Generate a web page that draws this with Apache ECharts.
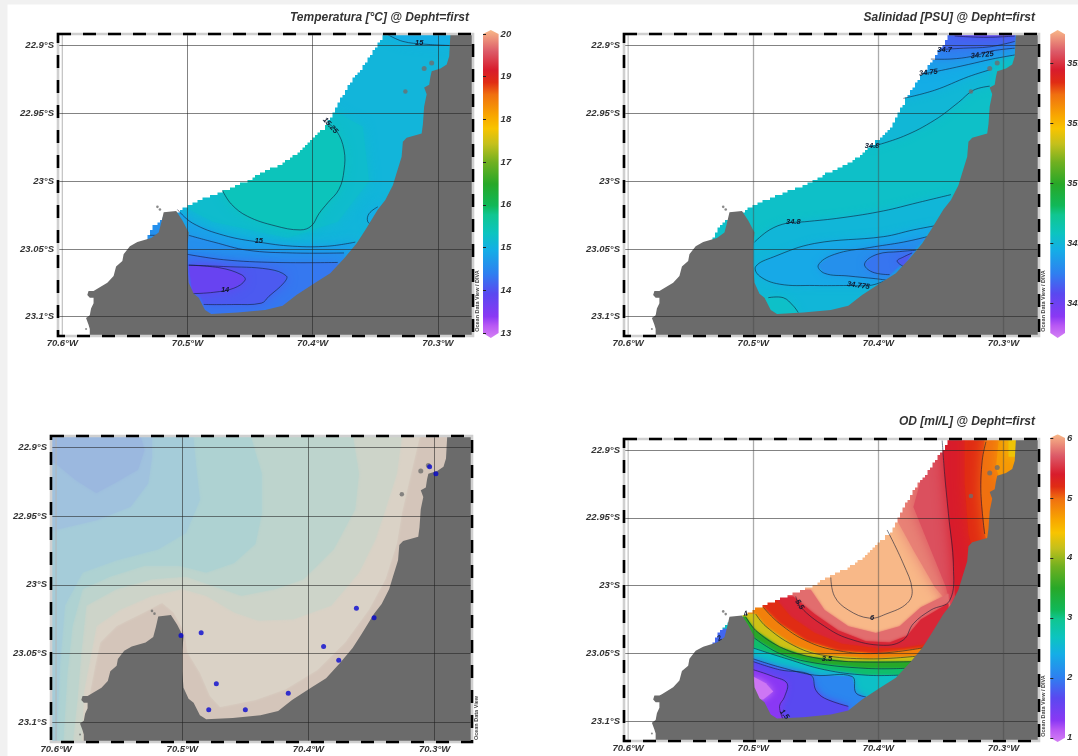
<!DOCTYPE html>
<html>
<head>
<meta charset="utf-8">
<script src="https://cdn.jsdelivr.net/npm/echarts@6/dist/echarts.min.js"></script>
<style>
html,body{margin:0;padding:0;background:#fff;overflow:hidden}
#c{width:1078px;height:756px;filter:blur(0.45px)}
</style>
</head>
<body>
<div id="c"></div>
<script>
/* ---------- data: longitudes in deg W, latitudes in deg S ---------- */
const lonLabels = [70.6, 70.5, 70.4, 70.3];
const lonGrid = [70.5, 70.4, 70.3];
const latTicks = [22.9, 22.95, 23, 23.05, 23.1];
const titles = ['Temperatura [°C] @ Depht=first', 'Salinidad [PSU] @ Depht=first', 'OD [ml/L] @ Depht=first'];
const tempTicks = [13, 14, 15, 16, 17, 18, 19, 20];
const salTicks = [34.5, 34.75, 35, 35.25, 35.5];
const odTicks = [1, 2, 3, 4, 5, 6];

const coast = [[70.29,22.88],[70.290,22.891],[70.291,22.908],[70.293,22.914],[70.298,22.917],[70.305,22.919],[70.306,22.923],[70.307,22.929],[70.311,22.931],[70.309,22.936],[70.311,22.945],[70.312,22.958],[70.313,22.965],[70.325,22.968],[70.328,22.971],[70.329,22.982],[70.333,22.994],[70.336,23.003],[70.342,23.014],[70.348,23.021],[70.358,23.036],[70.365,23.046],[70.375,23.057],[70.386,23.068],[70.398,23.075],[70.413,23.084],[70.424,23.092],[70.438,23.095],[70.460,23.097],[70.481,23.098],[70.486,23.095],[70.491,23.086],[70.495,23.083],[70.499,23.075],[70.500,23.063],[70.500,23.048],[70.499,23.038],[70.504,23.029],[70.509,23.022],[70.519,23.023],[70.521,23.031],[70.523,23.038],[70.529,23.042],[70.540,23.045],[70.546,23.048],[70.551,23.054],[70.552,23.059],[70.557,23.063],[70.559,23.070],[70.564,23.075],[70.573,23.080],[70.575,23.081],[70.579,23.081],[70.580,23.084],[70.578,23.086],[70.575,23.086],[70.575,23.090],[70.577,23.094],[70.578,23.099],[70.581,23.101],[70.579,23.106],[70.578,23.109],[70.578,23.125],[70.26,23.125],[70.26,22.88]];
const offshoreEdge = [[70.340,22.885],[70.347,22.898],[70.354,22.907],[70.361,22.917],[70.369,22.926],[70.377,22.938],[70.384,22.950],[70.390,22.960],[70.399,22.968],[70.408,22.976],[70.416,22.982],[70.427,22.988],[70.441,22.994],[70.452,23.000],[70.468,23.006],[70.485,23.012],[70.498,23.017],[70.509,23.023],[70.520,23.028],[70.527,23.033],[70.531,23.040],[70.533,23.043]];
const offshoreRest = [[70.535,23.05],[70.535,23.125],[70.62,23.125],[70.62,22.88],[70.340,22.88]];
const islands = [[70.305,22.913,5],[70.311,22.917,5],[70.326,22.934,4.5],[70.524,23.019,2.6],[70.522,23.021,2.6],[70.581,23.109,2]];
const stations = [[70.501,23.037],[70.485,23.035],[70.473,23.072],[70.479,23.091],[70.450,23.091],[70.416,23.079],[70.388,23.045],[70.376,23.055],[70.362,23.017],[70.348,23.024],[70.304,22.914],[70.299,22.919]];
const wholeMap = [[70.62,22.88],[70.26,22.88],[70.26,23.125],[70.62,23.125]];
const meridian706 = [[70.6,22.88],[70.6,23.125]];

/* temperature contours */
const tempLine15N = [[70.340,22.892],[70.328,22.897],[70.311,22.899],[70.291,22.900]];
const tempLine1525 = [[70.390,22.956],[70.381,22.963],[70.375,22.977],[70.375,22.992],[70.379,23.006],[70.388,23.016],[70.395,23.024],[70.401,23.033],[70.410,23.036],[70.430,23.033],[70.452,23.026],[70.465,23.017],[70.472,23.007]];
const tempLine15 = [[70.508,23.021],[70.496,23.031],[70.471,23.040],[70.443,23.045],[70.416,23.048],[70.388,23.048],[70.366,23.045]];
const tempLine1475 = [[70.499,23.040],[70.479,23.045],[70.452,23.051],[70.416,23.053],[70.375,23.053]];
const tempLine145 = [[70.500,23.054],[70.471,23.058],[70.430,23.060],[70.380,23.060]];
const tempLine1425 = [[70.499,23.062],[70.471,23.063],[70.435,23.065],[70.421,23.070],[70.423,23.075],[70.435,23.085],[70.441,23.090],[70.463,23.091],[70.487,23.091]];
const tempLine14 = [[70.499,23.062],[70.474,23.064],[70.457,23.069],[70.454,23.073],[70.463,23.079],[70.479,23.082],[70.496,23.083]];
const tempLineCove = [[70.348,23.019],[70.355,23.024],[70.356,23.030],[70.351,23.033]];
const tempLineWest = [[70.530,23.040],[70.523,23.040]];
const tempBlob = [[70.400,22.940],[70.360,22.960],[70.355,23.000],[70.380,23.030],[70.420,23.042],[70.480,23.030],[70.520,23.010],[70.450,22.970]];
const tempWestPool = [[70.52,23.01],[70.56,23.01],[70.56,23.06],[70.52,23.06]];
const tempLabels = [[70.315,22.898,'15'],[70.386,22.959,'15.25'],[70.443,23.044,'15'],[70.470,23.080,'14']];

/* salinity contours */
const salLine1 = [[70.339,22.893],[70.314,22.894],[70.291,22.893]];
const salLine2 = [[70.350,22.903],[70.332,22.902],[70.311,22.901],[70.291,22.897]];
const salLine3 = [[70.358,22.910],[70.342,22.910],[70.325,22.908],[70.309,22.904],[70.291,22.902]];
const salLine4 = [[70.366,22.921],[70.353,22.919],[70.328,22.914],[70.309,22.910],[70.291,22.907]];
const salLine5 = [[70.380,22.939],[70.355,22.933],[70.328,22.923],[70.311,22.918]];
const salLine6 = [[70.407,22.975],[70.380,22.967],[70.355,22.955],[70.336,22.942],[70.324,22.933],[70.311,22.930]];
const salLine7 = [[70.499,23.045],[70.487,23.036],[70.473,23.031],[70.459,23.030],[70.429,23.027],[70.396,23.022],[70.369,23.016],[70.342,23.010]];
const salLoop1 = [[70.355,23.033],[70.372,23.036],[70.396,23.041],[70.451,23.046],[70.484,23.056],[70.498,23.063],[70.495,23.070],[70.479,23.076],[70.451,23.077],[70.424,23.077],[70.407,23.077],[70.396,23.074]];
const salLoop2 = [[70.361,23.041],[70.380,23.045],[70.407,23.049],[70.435,23.054],[70.448,23.062],[70.443,23.068],[70.424,23.070],[70.402,23.072],[70.394,23.073]];
const salLoop3 = [[70.370,23.051],[70.383,23.052],[70.401,23.054],[70.411,23.061],[70.405,23.067],[70.391,23.069]];
const salLoop4 = [[70.373,23.053],[70.380,23.056],[70.385,23.059],[70.380,23.063]];
const salCorner = [[70.488,23.086],[70.476,23.086],[70.468,23.092],[70.464,23.097]];
const salLabels = [[70.347,22.903,'34.7'],[70.317,22.907,'34.725'],[70.360,22.920,'34.75'],[70.405,22.974,'34.8'],[70.468,23.030,'34.8'],[70.416,23.077,'34.775']];

/* oxygen contours */
const odLine6 = [[70.393,22.959],[70.380,22.984],[70.373,23.003],[70.377,23.013],[70.394,23.021],[70.407,23.024],[70.424,23.018],[70.435,23.008],[70.438,22.994]];
const odLine55 = [[70.349,22.893],[70.347,22.918],[70.344,22.947],[70.340,22.986],[70.343,23.011],[70.358,23.018],[70.372,23.028],[70.380,23.040],[70.396,23.044],[70.424,23.039],[70.443,23.030],[70.462,23.016],[70.466,23.008]];
const odLineNE = [[70.314,22.894],[70.317,22.908],[70.318,22.932],[70.315,22.962]];
const odPink = [[70.454,23.003],[70.443,23.018],[70.424,23.030],[70.402,23.035],[70.383,23.030],[70.366,23.016],[70.344,23.006]];
const odRedTop = [[70.468,23.008],[70.451,23.021],[70.432,23.033],[70.410,23.041],[70.391,23.042],[70.377,23.037],[70.366,23.025],[70.344,23.013]];
const odRed = [[70.481,23.011],[70.470,23.023],[70.451,23.035],[70.429,23.043],[70.402,23.046],[70.380,23.046],[70.361,23.043]];
const odOrange = [[70.492,23.016],[70.479,23.028],[70.457,23.041],[70.432,23.048],[70.402,23.050],[70.365,23.046]];
const odYellow = [[70.498,23.021],[70.490,23.030],[70.468,23.044],[70.446,23.051],[70.407,23.054],[70.369,23.052]];
const odGreen = [[70.506,23.023],[70.498,23.033],[70.479,23.045],[70.457,23.052],[70.424,23.056],[70.372,23.056]];
const odDkGreen = [[70.500,23.038],[70.479,23.050],[70.451,23.057],[70.410,23.061],[70.379,23.061]];
const odTeal = [[70.500,23.046],[70.473,23.054],[70.443,23.062],[70.410,23.066],[70.384,23.066]];
const odCyan = [[70.500,23.054],[70.479,23.060],[70.451,23.066],[70.421,23.067],[70.418,23.079],[70.410,23.082]];
const odBlue = [[70.500,23.056],[70.479,23.062],[70.454,23.066],[70.450,23.077],[70.443,23.083],[70.424,23.089]];
const odViolet = [[70.500,23.062],[70.484,23.067],[70.473,23.072],[70.475,23.082],[70.479,23.089],[70.476,23.099]];
const odPaleViolet = [[70.500,23.067],[70.490,23.072],[70.484,23.078],[70.492,23.084],[70.500,23.084]];
const odEast1 = [[70.370,22.885],[70.388,22.947],[70.372,22.974],[70.355,23.001],[70.344,23.013]];
const odEast2 = [[70.355,22.885],[70.372,22.942],[70.358,22.974],[70.346,23.001],[70.342,23.016]];
const odEast3 = [[70.349,22.885],[70.347,22.918],[70.344,22.947],[70.340,22.986],[70.338,23.020]];
const odEast4 = [[70.331,22.885],[70.331,22.925],[70.328,22.962],[70.320,22.990]];
const odEast5 = [[70.314,22.885],[70.317,22.908],[70.318,22.932],[70.315,22.962],[70.310,22.980]];
const odEast6 = [[70.303,22.885],[70.306,22.913],[70.300,22.930]];
const odEast7 = [[70.296,22.885],[70.296,22.905]];
const odWestTeal = [[70.52,23.01],[70.56,23.01],[70.56,23.06],[70.52,23.06]];
const odWestBlue = [[70.52,23.032],[70.56,23.032],[70.56,23.06],[70.52,23.06]];
const odLabels = [[70.405,23.024,'6'],[70.463,23.014,'5.5'],[70.441,23.054,'3.5'],[70.475,23.095,'1.5'],[70.527,23.039,'2'],[70.506,23.021,'4']];

/* bathymetry isobaths */
const isoA = [[70.310,22.885],[70.320,22.924],[70.326,22.948],[70.330,22.970],[70.339,22.996],[70.352,23.018],[70.371,23.042],[70.393,23.062],[70.418,23.076],[70.442,23.084],[70.470,23.089],[70.478,23.081],[70.486,23.064],[70.496,23.049],[70.498,23.035],[70.507,23.020],[70.516,23.013],[70.530,23.020],[70.552,23.030],[70.565,23.042],[70.569,23.059],[70.573,23.078],[70.575,23.098],[70.578,23.125]];
const isoB = [[70.325,22.885],[70.330,22.919],[70.339,22.945],[70.347,22.967],[70.360,22.991],[70.382,23.015],[70.412,23.025],[70.440,23.026],[70.459,23.020],[70.481,23.008],[70.500,23.003],[70.524,23.008],[70.549,23.018],[70.568,23.030],[70.573,23.054],[70.578,23.078],[70.580,23.125]];
const isoC = [[70.366,22.885],[70.360,22.919],[70.363,22.945],[70.380,22.974],[70.404,22.996],[70.426,23.003],[70.453,23.008],[70.475,23.001],[70.497,22.994],[70.524,22.996],[70.552,23.003],[70.576,23.015],[70.580,23.049],[70.583,23.083],[70.588,23.125]];
const isoD = [[70.448,22.885],[70.437,22.919],[70.437,22.948],[70.442,22.970],[70.459,22.984],[70.481,22.991],[70.502,22.986],[70.530,22.986],[70.557,22.994],[70.579,23.003],[70.587,23.030],[70.591,23.064],[70.595,23.125]];
const isoE = [[70.492,22.885],[70.489,22.914],[70.486,22.938],[70.497,22.962],[70.519,22.974],[70.552,22.982],[70.579,22.991],[70.593,23.015],[70.597,23.059],[70.600,23.125]];
const isoF = [[70.524,22.885],[70.524,22.907],[70.527,22.926],[70.541,22.943],[70.568,22.953],[70.601,22.960]];
const isoG = [[70.535,22.885],[70.530,22.902],[70.535,22.916],[70.552,22.925],[70.568,22.933],[70.584,22.924],[70.601,22.911]];
const depthLevels = [10, 50, 100, 200, 300, 500, 700, 1000];
const depthColors = ['#d4c5ba','#dad2c6','#cdd4c9','#bdd4cd','#aed2d2','#a5ccd9','#a0c2de','#9bb8df'];

/* colour scale (Ocean Data View), fraction from low to high */
const scaleStops = [0,.04,.07,.143,.21,.286,.34,.40,.43,.5,.57,.63,.68,.72,.79,.83,.87,.93,1];
const scaleColors = ['#d480f4','#b858f4','#8a38f4','#5a48f0','#2e80f0','#14aee6','#0cc4c0','#10c690','#10b858','#28a828','#70b020','#c4c01c','#f8c400','#f8a800','#f07010','#e02c14','#d81c2c','#dc5a68','#f8b888'];

/* ---------- helpers ---------- */
const S = 23.125, N = 22.88, EAST = 70.26, WESTLIM = 70.52;
const south = l => [...l, [l[l.length-1][0], S], [WESTLIM, S], [WESTLIM, l[0][1]]];
const north = l => [...l, [l[l.length-1][0], N], [l[0][0], N]];
const east = l => [...l, [EAST, l[l.length-1][1]], [EAST, l[0][1]]];
const west = l => [...l, [70.62, l[l.length-1][1]], [70.62, N], [l[0][0], N]];

function hexRgb(h){return [1,3,5].map(i=>parseInt(h.substr(i,2),16));}
function scaleColor(f){
  f=Math.max(0,Math.min(1,f));
  let i=0; while(i<scaleStops.length-2 && f>scaleStops[i+1]) i++;
  const t=(f-scaleStops[i])/(scaleStops[i+1]-scaleStops[i]);
  const a=hexRgb(scaleColors[i]), b=hexRgb(scaleColors[i+1]);
  return 'rgb('+a.map((v,k)=>Math.round(v+(b[k]-v)*t)).join(',')+')';
}

const tempBands = [[15.12,wholeMap],[15.0,north(tempLine15N)],[15.25,tempBlob],[15.42,tempLine1525],[15.0,tempLineCove.concat([[70.33,23.03],[70.33,23.015]])],[14.88,south(tempLine15)],[14.65,south(tempLine1475)],[14.4,south(tempLine145)],[14.15,tempLine1425],[13.85,tempLine14],[14.65,tempWestPool]];
const salBands = [[34.785,wholeMap],[34.76,north(salLine6)],[34.73,north(salLine5)],[34.70,north(salLine4)],[34.645,north(salLine3)],[34.60,north(salLine2)],[34.55,north(salLine1)],[34.755,south(salLine7)],[34.72,salLoop1],[34.67,salLoop2],[34.62,salLoop3],[34.58,salLoop4],[34.785,[...salCorner,[70.464,23.125],[70.52,23.125],[70.52,23.086]]]];
const odNorthBands = [[6,wholeMap],[5.8,east(odEast1)],[5.6,east(odEast2)],[5.35,east(odEast3)],[5.15,east(odEast4)],[4.95,east(odEast5)],[4.7,east(odEast6)],[4.35,east(odEast7)]];
const odSouthBands = [[5.72,south(odPink)],[5.4,south(odRedTop)],[5.15,south(odRed)],[4.85,south(odOrange)],[4.2,south(odYellow)],[3.5,south(odGreen)],[3.1,south(odDkGreen)],[2.65,south(odTeal)],[2.7,odWestTeal],[1.9,odWestBlue]];
const odLowBands = [[2.1,south(odCyan)],[1.72,south(odBlue)],[1.35,[...odViolet,[70.476,S],[WESTLIM,S],[WESTLIM,23.05]]],[1.05,odPaleViolet]];
const bathyBands = [[depthLevels[0],wholeMap],[depthLevels[1],west(isoA)],[depthLevels[2],west(isoB)],[depthLevels[3],west(isoC)],[depthLevels[4],west(isoD)],[depthLevels[5],west(isoE)],[depthLevels[6],west(isoF)],[depthLevels[7],west(isoG)]];

const labelTilt = {'15.25':-48,'5.5':-58,'1.5':-50,'34.775':-8,'34.725':6,'34.75':6,'2':30,'4':20};
const FONT = '"Liberation Sans", Arial, sans-serif';
const LAT_MIN = 22.8908, LAT_MAX = 23.1135;

const panels = [
 {left:58, top:33, width:415, height:302, lon:[70.272,70.6034], lat:[LAT_MIN,LAT_MAX], meridianColor:'rgba(30,30,30,.62)', bar:{x:483,w:15.6,top:30,h:308,range:[12.883,20.094],body:[13,20],ticks:tempTicks,scale:[13,20]}, layers:[[tempBands,12]], lines:[tempLine15N,tempLine1525,tempLine15,tempLine1475,tempLine145,tempLine1425,tempLine14,tempLineCove,tempLineWest], labels:tempLabels, mask:true, note:['Ocean Data View / DIVA',477.6,301]},
 {left:624, top:33, width:415, height:302, lon:[70.2716,70.6033], lat:[LAT_MIN,LAT_MAX], meridianColor:'rgba(70,70,70,.45)', bar:{x:1050.3,w:14.7,top:30,h:308,range:[34.354,35.6375],body:[34.375,35.62],ticks:salTicks,scale:[34.375,35.62]}, layers:[[salBands,8]], lines:[salLine1,salLine2,salLine3,salLine4,salLine5,salLine6,salLine7,salLoop1,salLoop2,salLoop3,salLoop4,salCorner], labels:salLabels, mask:true, note:['Ocean Data View / DIVA',1043.8,301]},
 {left:51, top:435, width:421, height:306, lon:[70.2704,70.604], lat:[22.8908,23.1138], meridianColor:'rgba(30,30,30,.62)', layers:[], bathy:true, lines:[], labels:[], mask:false, note:['Ocean Data View',476,718]},
 {left:624, top:438, width:415, height:302, lon:[70.2716,70.6033], lat:[22.8912,23.1138], meridianColor:'rgba(70,70,70,.45)', bar:{x:1050.3,w:14.7,top:434.3,h:307.7,range:[0.93,6.06],body:[1,6],ticks:odTicks,scale:[1,6]}, layers:[[odNorthBands,14],[odSouthBands,2.5],[odLowBands,7]], lines:[odLine6,odLine55,odLineNE,odOrange,odYellow,odGreen,odDkGreen,odTeal,odCyan,odBlue,odViolet], labels:odLabels, mask:true, note:['Ocean Data View / DIVA',1043.8,706]}
];

/* ---------- option ---------- */
const grids=[], xAxes=[], yAxes=[], series=[], graphics=[];
const axisText = {fontFamily:FONT,fontWeight:'bold',fontStyle:'italic',fontSize:9.5,color:'#333'};

function polySeries(g, items, render){
  series.push({type:'custom',coordinateSystem:'cartesian2d',xAxisIndex:g,yAxisIndex:g,clip:true,silent:true,z:2,
    data:items.map((_,i)=>[i]),renderItem:(p,api)=>render(items[p.dataIndex],api)});
}
function stairs(pts,s){
  const out=[];
  for(let i=0;i<pts.length-1;i++){
    const a=pts[i],b=pts[i+1],n=Math.ceil(Math.hypot(b[0]-a[0],b[1]-a[1]));
    for(let k=0;k<=n;k++){
      const x=Math.round((a[0]+(b[0]-a[0])*k/n)/s)*s, y=Math.round((a[1]+(b[1]-a[1])*k/n)/s)*s;
      const l=out[out.length-1];
      if(!l||l[0]!==x||l[1]!==y){ if(l&&l[0]!==x&&l[1]!==y) out.push([l[0],y]); out.push([x,y]); }
    }
  }
  return out;
}

panels.forEach((p,g)=>{
  grids.push({left:p.left,top:p.top,width:p.width,height:p.height,show:false,outerBoundsMode:'none'});
  xAxes.push({gridIndex:g,type:'value',inverse:true,min:p.lon[0],max:p.lon[1],position:'bottom',z:5,
    axisLine:{show:false},axisTick:{show:false,customValues:lonGrid},
    axisLabel:{...axisText,margin:3,customValues:lonLabels,formatter:v=>v+'°W'},
    splitLine:{show:true,lineStyle:{color:p.meridianColor,width:p.meridianColor.indexOf('.45')>0?1.3:.9}}});
  yAxes.push({gridIndex:g,type:'value',inverse:true,min:p.lat[0],max:p.lat[1],z:5,
    axisLine:{show:false},axisTick:{show:false,customValues:latTicks},
    axisLabel:{...axisText,margin:4,customValues:latTicks,formatter:v=>v+'°S'},
    splitLine:{show:true,lineStyle:{color:'rgba(30,30,30,.62)',width:.9}}});

  /* water colour */
  p.layers.forEach(([bands,soft])=>{
    polySeries(g,bands,(b,api)=>{
      const c=scaleColor((b[0]-p.bar.scale[0])/(p.bar.scale[1]-p.bar.scale[0]));
      return {type:'polygon',shape:{points:b[1].map(q=>api.coord(q))},style:{fill:c,shadowBlur:soft,shadowColor:c}};
    });
  });
  if(p.bathy){
    polySeries(g,bathyBands,(b,api)=>{
      const c=depthColors[depthLevels.indexOf(b[0])];
      return {type:'polygon',shape:{points:b[1].map(q=>api.coord(q))},style:{fill:c,shadowBlur:3,shadowColor:c}};
    });
  }
  /* white unsampled offshore area */
  if(p.mask){
    polySeries(g,[offshoreEdge],(e,api)=>({type:'polygon',
      shape:{points:[...stairs(e.map(q=>api.coord(q)),2.5),...offshoreRest.map(q=>api.coord(q))]},
      style:{fill:'#fff'}}));
  }
  /* faint 70.6W meridian */
  polySeries(g,[meridian706],(l,api)=>({type:'polyline',shape:{points:l.map(q=>api.coord(q))},
    style:{fill:null,stroke:'#b4b4b4',lineWidth:1}}));
  /* contour lines */
  polySeries(g,p.lines,(l,api)=>({type:'polyline',shape:{points:l.map(q=>api.coord(q)),smooth:0.4},
    style:{fill:null,stroke:'rgba(15,25,50,.72)',lineWidth:.8}}));
  /* land */
  polySeries(g,[coast],(c,api)=>({type:'polygon',shape:{points:c.map(q=>api.coord(q))},style:{fill:'#6b6b6b'}}));
  /* contour labels */
  polySeries(g,p.labels,(t,api)=>{
    const q=api.coord([t[0],t[1]]);
    return {type:'text',x:q[0],y:q[1],rotation:(labelTilt[t[2]]||0)*Math.PI/180,
      style:{text:t[2],fill:'#10182e',font:'italic bold 7.5px '+FONT,align:'center',verticalAlign:'middle'}};
  });
  /* islands */
  series.push({type:'scatter',xAxisIndex:g,yAxisIndex:g,silent:true,z:3,symbol:'circle',
    symbolSize:d=>d[2],itemStyle:{color:'#6e6e6e'},data:islands});
  if(p.bathy){
    series.push({type:'scatter',xAxisIndex:g,yAxisIndex:g,silent:true,z:7,symbol:'circle',
      symbolSize:5,itemStyle:{color:'#0808d0'},data:stations});
  }
  /* frame */
  graphics.push({type:'rect',z:20,silent:true,shape:{x:p.left,y:p.top+1,width:p.width,height:p.height},style:{fill:null,stroke:'#cfcfcf',lineWidth:2.6}});
  graphics.push({type:'rect',z:21,silent:true,shape:{x:p.left,y:p.top+1,width:p.width,height:p.height},style:{fill:null,stroke:'#000',lineWidth:2.6,lineDash:[13,12]}});
  graphics.push({type:'text',z:22,silent:true,x:p.note[1],y:p.note[2],rotation:Math.PI/2,
    style:{text:p.note[0],font:'bold 5.5px '+FONT,fill:'#444',align:'center',verticalAlign:'middle'}});
});

/* colour bars */
panels.forEach((p,g)=>{
  if(!p.bar) return;
  const b=p.bar, i=grids.length;
  grids.push({left:b.x,top:b.top,width:b.w,height:b.h,show:false,outerBoundsMode:'none'});
  xAxes.push({gridIndex:i,type:'value',min:0,max:1,show:false});
  yAxes.push({gridIndex:i,type:'value',position:'right',min:b.range[0],max:b.range[1],z:5,
    axisLine:{show:false},axisTick:{show:true,inside:false,length:3,customValues:b.ticks,lineStyle:{color:'#222',width:1}},
    splitLine:{show:false},axisLabel:{...axisText,margin:2,customValues:b.ticks,formatter:v=>String(v)}});
  const outline=[[0,b.body[1]],[0.5,b.range[1]],[1,b.body[1]],[1,b.body[0]],[0.5,b.range[0]],[0,b.body[0]]];
  const stops=scaleStops.map((s,k)=>({offset:1-s,color:scaleColors[k]})).reverse();
  polySeries(i,[outline],(o,api)=>({type:'polygon',shape:{points:o.map(q=>api.coord(q))},
    style:{fill:new echarts.graphic.LinearGradient(0,0,0,1,stops)}}));
});

graphics.unshift({type:'rect',z:-100,silent:true,shape:{x:7.5,y:4.5,width:1072,height:752},style:{fill:'#fff'}});

const titleStyle={fontFamily:FONT,fontWeight:'bold',fontStyle:'italic',fontSize:12,color:'#333'};
const option={
  animation:false,
  backgroundColor:'#f1f1f1',
  title:[
    {text:titles[0],right:1078-469,top:12,padding:0,textStyle:titleStyle},
    {text:titles[1],right:1078-1035,top:12,padding:0,textStyle:titleStyle},
    {text:titles[2],right:1078-1035,top:416,padding:0,textStyle:titleStyle}
  ],
  grid:grids,xAxis:xAxes,yAxis:yAxes,series:series,
  graphic:{elements:graphics}
};
const chart=echarts.init(document.getElementById('c'),null,{renderer:'canvas',width:1078,height:756});
chart.setOption(option);
</script>
</body>
</html>
